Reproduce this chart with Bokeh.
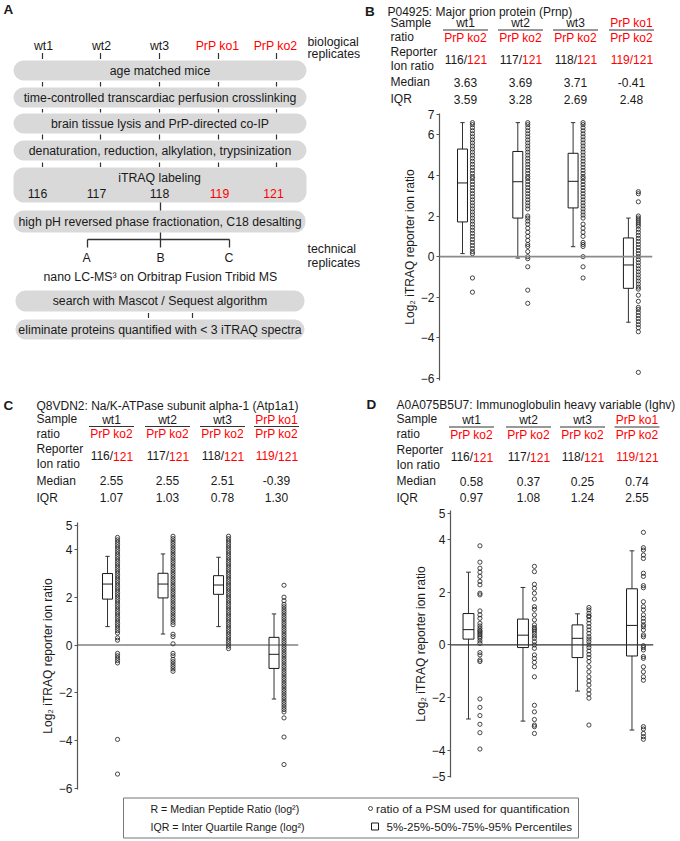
from bokeh.plotting import figure
from bokeh.layouts import column, row
from bokeh.models import Range1d, FixedTicker, Span
from bokeh.core.properties import value
from bokeh.embed import file_html
from bokeh.resources import INLINE

FONT = "Liberation Sans"
INK = "#1a1a1a"
RED = "#ff0000"
BOXGREY = "#d9d9d9"

# ------------------------------------------------------------------ data
# panel A (workflow)
bio_replicates = ["wt1", "wt2", "wt3", "PrP ko1", "PrP ko2"]
bio_is_ko = [False, False, False, True, True]
itraq_tags = ["116", "117", "118", "119", "121"]
tech_replicates = ["A", "B", "C"]
steps_upper = ["age matched mice",
               "time-controlled transcardiac perfusion crosslinking",
               "brain tissue lysis and PrP-directed co-IP",
               "denaturation, reduction, alkylation, trypsinization"]
step_itraq = "iTRAQ labeling"
step_fraction = "high pH reversed phase fractionation, C18 desalting"
step_ms = "nano LC-MS\u00b3 on Orbitrap Fusion Tribid MS"
steps_lower = ["search with Mascot / Sequest algorithm",
               "eliminate proteins quantified with < 3 iTRAQ spectra"]

# panels B-D
samples = ["wt1", "wt2", "wt3", "PrP ko1"]
sample_is_ko = [False, False, False, True]
reference_sample = "PrP ko2"
reporter_tags = ["116", "117", "118", "119"]
reference_tag = "121"
group_pos = [1, 2, 3, 4]
axis_title = "Log\u2082 iTRAQ reporter ion ratio"

B_title = "P04925: Major prion protein (Prnp)"
B_median_txt = ["3.63", "3.69", "3.71", "-0.41"]
B_iqr_txt = ["3.59", "3.28", "2.69", "2.48"]
B_ticks = [-6, -4, -2, 0, 2, 4, 6, 7]
B_p05 = [0.15, -0.07, 0.49, -3.23]
B_p25 = [1.71, 1.90, 2.40, -1.56]
B_p50 = [3.63, 3.69, 3.71, -0.41]
B_p75 = [5.30, 5.18, 5.09, 0.92]
B_p95 = [6.60, 6.60, 6.60, 1.90]
B_wt1 = [6.6, 6.5, 6.35, 6.2, 6.05, 5.9, 5.75, 5.6, 5.45, 5.3, 5.15, 5.0, 4.85, 4.7, 4.55, 4.4,
         4.25, 4.1, 3.95, 3.85, 3.7, 3.55, 3.4, 3.25, 3.1, 2.95, 2.8, 2.65, 2.5, 2.35, 2.2, 2.05,
         1.9, 1.75, 1.6, 1.45, 1.3, 1.15, 1.0, 0.85, 0.7, 0.55, 0.4, 0.25, 0.15, -1.05, -1.75]
B_wt2 = [6.6, 6.5, 6.35, 6.2, 6.05, 5.9, 5.75, 5.6, 5.45, 5.3, 5.15, 5.0, 4.85, 4.7, 4.55, 4.4,
         4.25, 4.1, 3.95, 3.85, 3.7, 3.55, 3.4, 3.25, 3.1, 2.95, 2.8, 2.65, 2.5, 2.35, 2.0, 1.9,
         1.75, 1.6, 1.4, 1.2, 1.0, 0.8, 0.6, 0.5, 0.25, 0.0, -0.1, -0.5, -1.65, -2.3]
B_wt3 = [6.6, 6.5, 6.35, 6.2, 6.05, 5.9, 5.75, 5.6, 5.45, 5.3, 5.15, 5.0, 4.85, 4.7, 4.55, 4.4,
         4.25, 4.1, 3.95, 3.85, 3.7, 3.55, 3.4, 3.25, 3.1, 2.95, 2.8, 2.65, 2.5, 2.35, 2.2, 2.05,
         1.9, 1.6, 1.4, 1.2, 1.0, 0.7, 0.6, 0.5, 0.0, -0.5, -1.05]
B_ko1 = [3.2, 3.1, 2.7, 2.0, 1.9, 1.8, 1.7, 1.6, 1.5, 1.35, 1.2, 1.05, 0.9, 0.75, 0.6, 0.45, 0.3,
         0.15, 0.0, -0.15, -0.3, -0.45, -0.6, -0.75, -0.9, -1.05, -1.2, -1.35, -1.5, -1.6, -1.9,
         -2.2, -2.5, -2.6, -2.75, -2.9, -3.05, -3.2, -3.35, -3.5, -3.7, -5.7]

C_title = "Q8VDN2: Na/K-ATPase subunit alpha-1 (Atp1a1)"
C_median_txt = ["2.55", "2.55", "2.51", "-0.39"]
C_iqr_txt = ["1.07", "1.03", "0.78", "1.30"]
C_ticks = [-6, -4, -2, 0, 2, 4, 5]
C_p05 = [0.77, 0.46, 0.77, -2.26]
C_p25 = [1.92, 1.97, 2.12, -0.98]
C_p50 = [2.55, 2.55, 2.51, -0.39]
C_p75 = [2.99, 3.00, 2.90, 0.32]
C_p95 = [3.71, 3.81, 3.67, 1.30]
C_wt1 = [4.5, 4.4, 4.3, 4.2, 4.1, 4.0, 3.9, 3.8, 3.7, 3.6, 3.5, 3.4, 3.3, 3.2, 3.1, 3.0, 2.9, 2.8,
         2.7, 2.6, 2.5, 2.4, 2.3, 2.2, 2.1, 2.0, 1.9, 1.8, 1.7, 1.6, 1.5, 1.4, 1.3, 1.2, 1.1, 1.0,
         0.9, 0.8, 0.7, 0.6, 0.5, 0.3, 0.2, -0.35, -0.45, -0.55, -0.65, -0.75, -3.95, -5.4]
C_wt2 = [4.55, 4.45, 4.35, 4.25, 4.15, 4.05, 3.95, 3.85, 3.75, 3.65, 3.55, 3.45, 3.35, 3.25, 3.15,
         3.05, 2.95, 2.85, 2.75, 2.65, 2.55, 2.45, 2.35, 2.25, 2.15, 2.05, 1.95, 1.85, 1.75, 1.65,
         1.55, 1.45, 1.35, 1.25, 1.15, 1.05, 0.95, 0.85, 0.45, 0.35, 0.05, -0.35, -0.45, -0.6,
         -0.7, -0.8, -0.9, -1.0, -1.1]
C_wt3 = [4.55, 4.45, 4.35, 4.25, 4.15, 4.05, 3.95, 3.85, 3.75, 3.65, 3.55, 3.45, 3.35, 3.25, 3.15,
         3.05, 2.95, 2.85, 2.75, 2.65, 2.55, 2.45, 2.35, 2.25, 2.15, 2.05, 1.95, 1.85, 1.75, 1.65,
         1.55, 1.45, 1.35, 1.25, 1.15, 1.05, 0.95, 0.85, 0.75, 0.65, 0.55, 0.45, 0.35, 0.25, 0.15,
         0.05, -0.05, -0.15]
C_ko1 = [2.5, 2.0, 1.85, 1.7, 1.6, 1.5, 1.4, 1.3, 1.2, 1.1, 1.0, 0.9, 0.8, 0.7, 0.6, 0.5, 0.4, 0.3,
         0.2, 0.1, 0.0, -0.1, -0.2, -0.3, -0.4, -0.5, -0.6, -0.7, -0.8, -0.9, -1.0, -1.1, -1.2,
         -1.3, -1.4, -1.5, -1.6, -1.7, -1.8, -1.9, -2.0, -2.1, -2.2, -2.3, -2.4, -2.5, -2.6, -2.7,
         -2.8, -3.05, -3.85, -5.0]

D_title = "A0A075B5U7: Immunoglobulin heavy variable (Ighv)"
D_median_txt = ["0.58", "0.37", "0.25", "0.74"]
D_iqr_txt = ["0.97", "1.08", "1.24", "2.55"]
D_ticks = [-5, -4, -2, 0, 2, 4, 5]
D_p05 = [-2.81, -2.89, -1.75, -3.23]
D_p25 = [0.22, -0.10, -0.48, -0.42]
D_p50 = [0.58, 0.37, 0.25, 0.74]
D_p75 = [1.19, 0.98, 0.76, 2.13]
D_p95 = [2.76, 2.18, 1.18, 3.57]
D_wt1 = [3.76, 3.14, 2.91, 2.76, 2.6, 2.41, 2.28, 1.96, 1.9, 1.29, 1.14, 1.01, 0.82, 0.72, 0.63,
         0.55, 0.5, 0.44, 0.38, 0.31, 0.25, 0.15, 0.06, -0.29, -0.38, -0.57, -0.63, -2.05, -2.37,
         -2.68, -3.01, -3.33, -3.95]
D_wt2 = [2.98, 2.78, 2.3, 2.15, 1.96, 1.74, 1.45, 1.35, 1.14, 0.95, 0.76, 0.66, 0.6, 0.53, 0.44,
         0.34, 0.25, 0.12, 0.0, -0.13, -0.38, -0.51, -0.66, -0.83, -1.21, -2.29, -2.54, -2.83,
         -3.04, -3.1, -3.36]
D_wt3 = [1.42, 1.33, 1.2, 1.1, 1.07, 0.95, 0.82, 0.69, 0.57, 0.44, 0.31, 0.22, 0.12, 0.0, -0.1,
         -0.23, -0.36, -0.48, -0.63, -0.83, -1.02, -1.21, -1.37, -1.52, -1.71, -1.86, -2.02, -3.04]
D_ko1 = [4.27, 3.69, 3.6, 3.41, 3.28, 2.72, 2.6, 2.25, 2.17, 1.64, 1.45, 1.33, 1.14, 1.01, 0.89,
         0.76, 0.69, 0.57, 0.38, 0.31, -0.03, -0.1, -0.19, -0.44, -0.51, -0.83, -1.02, -1.21,
         -1.34, -3.1, -3.19, -3.36, -3.48, -3.58]

legend_left = ["R = Median Peptide Ratio (log\u00b2)", "IQR = Inter Quartile Range (log\u00b2)"]
legend_right = ["ratio of a PSM used for quantification", "5%-25%-50%-75%-95% Percentiles"]


# ------------------------------------------------------------------ helpers
def canvas(x0, x1, y0, y1):
    p = figure(width=x1 - x0, height=y1 - y0, x_range=Range1d(x0, x1), y_range=Range1d(y1, y0),
               output_backend="svg", toolbar_location=None, min_border=0,
               x_axis_location=None, y_axis_location=None, frame_align=False)
    p.grid.grid_line_color = None
    p.outline_line_color = None
    return p


def T(p, x, y, s, size=12, color=INK, align="left", bold=False):
    p.text(x=[x], y=[y], text=[s], text_font=value(FONT), text_font_size=f"{size}px",
           text_color=color, text_align=align, text_baseline="middle",
           text_font_style="bold" if bold else "normal")


def header(x0, x1, y0, y1, letter, letter_x, title, title_x, label_x, cols, ys, medians, iqrs):
    p = canvas(x0, x1, y0, y1)
    T(p, letter_x, ys["title"], letter, 13.5, bold=True)
    T(p, title_x, ys["title"], title, 12)
    T(p, label_x, ys["s1"], "Sample", 12)
    T(p, label_x, ys["s2"], "ratio", 12)
    T(p, label_x, ys["r1"], "Reporter", 12)
    T(p, label_x, ys["r2"], "Ion ratio", 12)
    T(p, label_x, ys["med"], "Median", 12)
    T(p, label_x, ys["iqr"], "IQR", 12)
    p.segment(x0=[c - 22.5 for c in cols], x1=[c + 22.5 for c in cols],
              y0=[ys["line"]] * len(cols), y1=[ys["line"]] * len(cols),
              line_color="#333333", line_width=1)
    for c, name, ko, tag, m, q in zip(cols, samples, sample_is_ko, reporter_tags, medians, iqrs):
        T(p, c, ys["num"], name, 12, RED if ko else INK, "center")
        T(p, c, ys["den"], reference_sample, 12, RED, "center")
        T(p, c + 1.6, ys["rv"], tag + "/", 12, RED if ko else INK, "right")
        T(p, c + 1.6, ys["rv"], reference_tag, 12, RED, "left")
        T(p, c, ys["med"], m, 12, INK, "center")
        T(p, c, ys["iqr"], q, 12, INK, "center")
    return p


def box_panel(w, h, borders, xr, yr, ticks, stats, pts, box_w, dx, zero_color, zero_width):
    lo, q1, med, q3, hi = stats
    mbl, mbr, mbt, mbb = borders
    p = figure(width=w, height=h, x_range=Range1d(*xr), y_range=Range1d(*yr),
               output_backend="svg", toolbar_location=None, x_axis_location=None,
               min_border_left=mbl, min_border_right=mbr, min_border_top=mbt,
               min_border_bottom=mbb, frame_align=False)
    p.grid.grid_line_color = None
    p.outline_line_color = None
    ax = p.yaxis[0]
    ax.ticker = FixedTicker(ticks=ticks)
    ax.axis_line_color = "#555555"
    ax.axis_line_width = 1.2
    ax.major_tick_line_color = "#555555"
    ax.major_tick_in = 0
    ax.major_tick_out = 3
    ax.minor_tick_line_color = None
    ax.major_label_standoff = 2
    ax.major_label_text_font = FONT
    ax.major_label_text_font_size = "12px"
    ax.major_label_text_color = INK
    ax.axis_label = axis_title
    ax.axis_label_text_font = FONT
    ax.axis_label_text_font_size = "12px"
    ax.axis_label_text_font_style = "normal"
    ax.axis_label_text_color = INK
    ax.axis_label_standoff = 1
    p.add_layout(Span(location=0, dimension="width", line_color=zero_color, line_width=zero_width))
    cap = box_w * 0.22
    p.segment(x0=group_pos, y0=q3, x1=group_pos, y1=hi, line_color="#333333", line_width=1)
    p.segment(x0=group_pos, y0=lo, x1=group_pos, y1=q1, line_color="#333333", line_width=1)
    p.segment(x0=[g - cap for g in group_pos], x1=[g + cap for g in group_pos], y0=hi, y1=hi,
              line_color="#333333", line_width=1)
    p.segment(x0=[g - cap for g in group_pos], x1=[g + cap for g in group_pos], y0=lo, y1=lo,
              line_color="#333333", line_width=1)
    p.vbar(x=group_pos, width=box_w, bottom=q1, top=q3, fill_color=None, line_color=INK,
           line_width=1)
    p.segment(x0=[g - box_w / 2 for g in group_pos], x1=[g + box_w / 2 for g in group_pos],
              y0=med, y1=med, line_color=INK, line_width=1)
    xs = [g + dx for g, vals in zip(group_pos, pts) for _ in vals]
    ys = [v for vals in pts for v in vals]
    p.scatter(x=xs, y=ys, marker="circle", size=4.2, fill_color=None, line_color=INK,
              line_width=0.8)
    return p


# ------------------------------------------------------------------ panel A
pA = canvas(0, 361, 0, 368)
T(pA, 3, 9, "A", 13.5, bold=True)
bio_x = [43, 101, 159, 217, 275]
tick_x = [42, 100, 159, 218, 276]
for name, ko, x in zip(bio_replicates, bio_is_ko, bio_x):
    T(pA, x, 45, name, 12.3, RED if ko else INK, "center")
T(pA, 307, 41.5, "biological", 12.3)
T(pA, 307, 53.5, "replicates", 12.3)

upper_tops = [60, 87, 113, 140]
box_h = 20
pA.quad(left=[13] * 4, right=[306] * 4, top=upper_tops, bottom=[t + box_h for t in upper_tops],
        fill_color=BOXGREY, line_color=None, border_radius=10)
pA.quad(left=[13, 13, 15, 15], right=[306, 305, 304, 304], top=[167, 210, 290, 319],
        bottom=[202, 232, 311, 339], fill_color=BOXGREY, line_color=None, border_radius=10)
for t, s in zip(upper_tops, steps_upper):
    T(pA, 159.5, t + box_h / 2 + 0.5, s, 12.3, INK, "center")
gaps = [(52.5, 58.5), (81.5, 86), (108.5, 112), (134, 139), (162, 166.5)]
gx0, gy0, gy1 = [], [], []
for a, b in gaps:
    for x in tick_x:
        gx0.append(x); gy0.append(a); gy1.append(b)
pA.segment(x0=gx0, x1=gx0, y0=gy0, y1=gy1, line_color="#333333", line_width=1.2)

T(pA, 159, 177.5, step_itraq, 12.3, INK, "center")
tag_x = [37, 96, 159, 219, 273]
for tg, ko, x in zip(itraq_tags, bio_is_ko, tag_x):
    T(pA, x, 192.5, tg, 12.3, RED if ko else INK, "center")
T(pA, 159.5, 221.5, step_fraction, 12.3, INK, "center")

pA.segment(x0=[160, 160, 87, 87, 229], x1=[160, 160, 229, 87, 229],
           y0=[202, 232, 239, 239, 239], y1=[210, 247, 239, 247, 247],
           line_color="#333333", line_width=1.3)
for s, x in zip(tech_replicates, [86, 160, 228.5]):
    T(pA, x, 257, s, 12.3, INK, "center")
T(pA, 307, 248, "technical", 12.3)
T(pA, 307, 262, "replicates", 12.3)
T(pA, 160, 276.5, step_ms, 12.3, INK, "center")
T(pA, 159.5, 300.5, steps_lower[0], 12.3, INK, "center")
T(pA, 159.5, 329.5, steps_lower[1], 12.3, INK, "center")
pA.segment(x0=[148, 192], x1=[148, 192], y0=[312.5, 312.5], y1=[317.5, 317.5],
           line_color="#333333", line_width=1.2)

# ------------------------------------------------------------------ panel B
ysB = dict(title=11, s1=22, s2=36.5, num=22, line=29.5, den=37, r1=51.5, r2=65.5, rv=59,
           med=81.5, iqr=98.5)
pBh = header(361, 680, 0, 106, "B", 364.5, B_title, 387, 390, [465, 520, 575, 631], ysB,
             B_median_txt, B_iqr_txt)
pBp = box_panel(319, 284, (78, 28, 7, 10), (0.584, 4.436), (-6.1, 7.05), B_ticks,
                (B_p05, B_p25, B_p50, B_p75, B_p95), [B_wt1, B_wt2, B_wt3, B_ko1],
                0.18, 0.18, "#8a8a8a", 1.6)

# ------------------------------------------------------------------ panel C
ysC = dict(title=405, s1=418, s2=433, num=419, line=426, den=433.5, r1=448, r2=463, rv=455.5,
           med=480, iqr=497)
pCh = header(0, 361, 368, 512, "C", 3, C_title, 36, 36, [111, 167, 222, 276], ysC,
             C_median_txt, C_iqr_txt)
pCp = box_panel(361, 284, (77, 63, 10, 7), (0.459, 4.441), (-6.045, 5.125), C_ticks,
                (C_p05, C_p25, C_p50, C_p75, C_p95), [C_wt1, C_wt2, C_wt3, C_ko1],
                0.18, 0.18, "#444444", 1.2)

# ------------------------------------------------------------------ panel D
ysD = dict(title=404, s1=418, s2=433, num=419, line=426.5, den=434, r1=449, r2=464, rv=456.5,
           med=480.5, iqr=497)
pDh = header(361, 680, 390, 505, "D", 366, D_title, 396, 396, [471, 528, 582, 636.5], ysD,
             D_median_txt, D_iqr_txt)
pDp = box_panel(319, 291, (89, 27, 5, 19), (0.67, 4.395), (-5.03, 5.1), D_ticks,
                (D_p05, D_p25, D_p50, D_p75, D_p95), [D_wt1, D_wt2, D_wt3, D_ko1],
                0.2, 0.21, "#333333", 1.2)

# ------------------------------------------------------------------ legend
pL = canvas(0, 680, 796, 840)
pL.quad(left=[123], right=[578], top=[797.5], bottom=[837.5], fill_color=None,
        line_color="#777777", line_width=1)
T(pL, 150, 808, legend_left[0], 10.6)
T(pL, 150, 826, legend_left[1], 10.6)
pL.scatter(x=[370], y=[808], marker="circle", size=4, fill_color=None, line_color=INK,
           line_width=0.8)
pL.scatter(x=[374.5], y=[826], marker="square", size=7, fill_color=None, line_color=INK,
           line_width=1)
T(pL, 375.5, 808, legend_right[0], 11.8)
T(pL, 386, 826, legend_right[1], 11.6)

layout = column(row(column(pA, pCh, pCp), column(pBh, pBp, pDh, pDp)), pL)
open("out.html", "w").write(file_html(layout, INLINE))
